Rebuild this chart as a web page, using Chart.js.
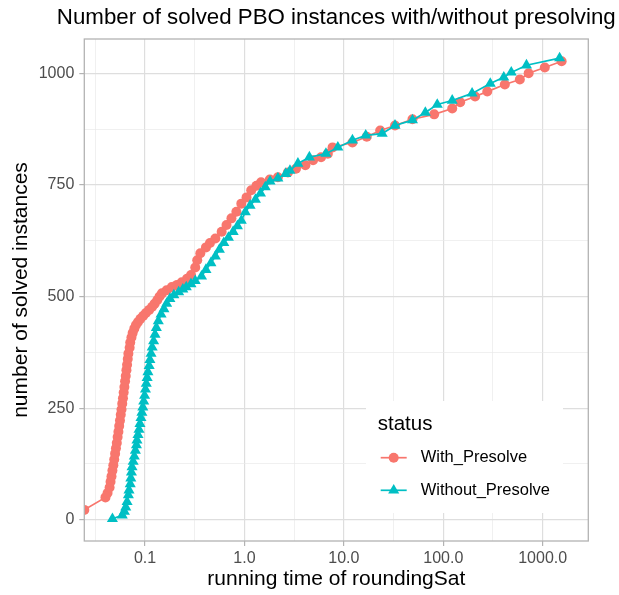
<!DOCTYPE html>
<html>
<head>
<meta charset="utf-8">
<title>Solved PBO instances</title>
<script src="https://cdn.jsdelivr.net/npm/chart.js@4.4.1/dist/chart.umd.min.js"></script>
<style>
  html, body { margin: 0; padding: 0; background: #ffffff; }
  #wrap { width: 619px; height: 595px; }
</style>
</head>
<body>
<div id="wrap"><canvas id="chart" width="619" height="595"></canvas></div>
<script>
// series (time in s, solved instances)
const seriesNames = ["With_Presolve", "Without_Presolve"];

const withTime = [0.0245, 0.040, 0.042, 0.044, 0.045, 0.046, 0.047, 0.048, 0.049, 0.050,
    0.051, 0.052, 0.053, 0.054, 0.055, 0.056, 0.057, 0.058, 0.059, 0.060,
    0.061, 0.062, 0.063, 0.064, 0.065, 0.066, 0.067, 0.068, 0.070, 0.071,
    0.073, 0.075, 0.078, 0.081, 0.085, 0.090, 0.096, 0.102, 0.110, 0.118,
    0.125, 0.133, 0.140, 0.148, 0.165, 0.186, 0.210, 0.234, 0.265, 0.29,
    0.32, 0.335, 0.36, 0.41, 0.45, 0.51, 0.59, 0.66, 0.74, 0.83,
    0.93, 1.05, 1.17, 1.32, 1.47, 1.8, 2.17, 2.74, 3.3, 4.1,
    4.9, 5.9, 6.9, 7.7, 12.2, 17, 23.2, 32.7, 49, 81,
    123, 148, 209, 277, 416, 589, 722, 1050, 1550];
const withSolved = [22, 50, 60, 72, 85, 97, 110, 122, 135, 148,
    160, 172, 185, 197, 210, 222, 235, 247, 260, 272,
    285, 297, 310, 322, 335, 347, 360, 372, 385, 397,
    408, 418, 428, 436, 443, 450, 457, 463, 470, 477,
    484, 492, 500, 507, 514, 521, 526, 532, 540, 548,
    565, 581, 597, 610, 620, 630, 645, 660, 675, 690,
    708, 722, 738, 748, 756, 762, 767, 778, 786, 794,
    805, 812, 820, 834, 845, 858, 872, 883, 897, 908,
    921, 935, 948, 959, 975, 986, 1000, 1013, 1027];

const withoutTime = [0.047, 0.059, 0.062, 0.064, 0.066, 0.068, 0.069, 0.071, 0.072, 0.073,
    0.074, 0.076, 0.078, 0.080, 0.082, 0.083, 0.085, 0.087, 0.089, 0.091,
    0.093, 0.095, 0.097, 0.099, 0.101, 0.103, 0.105, 0.107, 0.110, 0.112,
    0.115, 0.118, 0.122, 0.126, 0.130, 0.136, 0.145, 0.155, 0.165, 0.178,
    0.195, 0.218, 0.24, 0.26, 0.29, 0.32, 0.37, 0.41, 0.46, 0.51,
    0.56, 0.62, 0.69, 0.77, 0.85, 0.93, 1.02, 1.14, 1.29, 1.45,
    1.62, 1.81, 2.17, 2.6, 2.87, 3.45, 4.5, 6.6, 8.7, 12.2,
    16.6, 24.3, 32.7, 49, 66, 87, 123, 195, 297, 406,
    483, 687, 1480];
const withoutSolved = [2, 10, 18, 28, 40, 55, 66, 80, 93, 106,
    118, 130, 142, 155, 167, 178, 190, 202, 215, 228,
    240, 252, 265, 278, 292, 305, 318, 331, 345, 358,
    372, 386, 400, 415, 430, 445, 460, 472, 484, 495,
    503, 510, 516, 521, 528, 535, 545, 560, 575, 590,
    605, 620, 632, 645, 658, 670, 689, 704, 717, 731,
    745, 758, 765, 775, 782, 798, 812, 820, 834, 850,
    861, 865, 883, 895, 912, 930, 939, 955, 977, 991,
    1002, 1018, 1034];

// axis breaks
const xMajor = [0.1, 1, 10, 100, 1000];
const xMajorLabels = ["0.1", "1.0", "10.0", "100.0", "1000.0"];
const xMinor = [0.0316, 0.316, 3.16, 31.6, 316];
const yMajor = [0, 250, 500, 750, 1000];
const yMinor = [125, 375, 625, 875];

const RED = "#F8766D";
const TEAL = "#00BFC4";
const FONT = "'Liberation Sans', Arial, sans-serif";

function toPoints(xs, ys) {
    return xs.map((x, i) => ({ x: x, y: ys[i] }));
}

function gridColor(majors) {
    return ctx => (ctx.tick && majors.includes(ctx.tick.value)) ? "#DEDEDE" : "#E9E9E9";
}
function gridWidth(majors) {
    return ctx => (ctx.tick && majors.includes(ctx.tick.value)) ? 1.2 : 0.7;
}
function tickColor(majors) {
    return ctx => (ctx.tick && majors.includes(ctx.tick.value)) ? "#B3B3B3" : "rgba(0,0,0,0)";
}

function drawTriangle(ctx, x, y, r) {
    ctx.beginPath();
    ctx.moveTo(x, y - r);
    ctx.lineTo(x + Math.sin(Math.PI * 2 / 3) * r, y + r / 2);
    ctx.lineTo(x - Math.sin(Math.PI * 2 / 3) * r, y + r / 2);
    ctx.closePath();
    ctx.fill();
}

// title, panel border and the ggplot style legend inside the panel
const decor = {
    id: "decor",
    afterDraw(chart) {
        const ctx = chart.ctx;
        const a = chart.chartArea;
        ctx.save();

        ctx.strokeStyle = "#B3B3B3";
        ctx.lineWidth = 1.3;
        ctx.strokeRect(a.left, a.top, a.right - a.left, a.bottom - a.top);

        ctx.fillStyle = "#000000";
        ctx.font = "22.3px " + FONT;
        ctx.textAlign = "center";
        ctx.textBaseline = "alphabetic";
        ctx.fillText("Number of solved PBO instances with/without presolving", (a.left + a.right) / 2, 24);

        // legend box
        ctx.fillStyle = "#ffffff";
        ctx.fillRect(366, 401, 197, 112);

        ctx.fillStyle = "#000000";
        ctx.textAlign = "left";
        ctx.font = "20.5px " + FONT;
        ctx.fillText("status", 377.7, 429.5);

        const keys = [
            { name: seriesNames[0], color: RED, y: 457.7, shape: "circle" },
            { name: seriesNames[1], color: TEAL, y: 490.3, shape: "triangle" }
        ];
        keys.forEach(k => {
            ctx.strokeStyle = k.color;
            ctx.lineWidth = 1.7;
            ctx.beginPath();
            ctx.moveTo(380.7, k.y);
            ctx.lineTo(406.7, k.y);
            ctx.stroke();
            ctx.fillStyle = k.color;
            if (k.shape === "circle") {
                ctx.beginPath();
                ctx.arc(393.7, k.y, 5, 0, Math.PI * 2);
                ctx.fill();
            } else {
                drawTriangle(ctx, 393.7, k.y, 6.4);
            }
            ctx.fillStyle = "#000000";
            ctx.font = "16.5px " + FONT;
            ctx.textBaseline = "middle";
            ctx.fillText(k.name, 420.7, k.y);
            ctx.textBaseline = "alphabetic";
        });

        ctx.restore();
    }
};

new Chart(document.getElementById("chart"), {
    type: "scatter",
    data: {
        datasets: [
            {
                label: seriesNames[0],
                data: toPoints(withTime, withSolved),
                showLine: true,
                borderColor: RED,
                backgroundColor: RED,
                borderWidth: 1.7,
                pointStyle: "circle",
                pointRadius: 5,
                pointBorderWidth: 0,
                pointHoverRadius: 5,
                clip: 0,
                order: 1
            },
            {
                label: seriesNames[1],
                data: toPoints(withoutTime, withoutSolved),
                showLine: true,
                borderColor: TEAL,
                backgroundColor: TEAL,
                borderWidth: 1.7,
                pointStyle: "triangle",
                pointRadius: 6.4,
                pointBorderWidth: 0,
                pointHoverRadius: 6.4,
                clip: 0,
                order: 0
            }
        ]
    },
    options: {
        responsive: false,
        animation: false,
        devicePixelRatio: 1,
        layout: { padding: { left: 0, top: 39, right: 30.7, bottom: 0 } },
        plugins: {
            legend: { display: false },
            title: { display: false },
            tooltip: { enabled: false }
        },
        scales: {
            x: {
                type: "logarithmic",
                min: 0.0245,
                max: 2876,
                afterBuildTicks: scale => {
                    scale.ticks = xMinor.concat(xMajor).sort((p, q) => p - q).map(v => ({ value: v }));
                },
                afterFit: scale => { scale.height = 54; },
                ticks: {
                    autoSkip: false,
                    maxRotation: 0,
                    padding: 3,
                    color: "#4D4D4D",
                    font: { family: FONT, size: 16 },
                    callback: value => {
                        const i = xMajor.indexOf(value);
                        return i >= 0 ? xMajorLabels[i] : "";
                    }
                },
                grid: {
                    color: gridColor(xMajor),
                    lineWidth: gridWidth(xMajor),
                    tickColor: tickColor(xMajor),
                    tickLength: 5,
                    tickWidth: 1.2
                },
                border: { display: false },
                title: {
                    display: true,
                    text: "running time of roundingSat",
                    color: "#000000",
                    font: { family: FONT, size: 21 },
                    padding: { top: 0, bottom: 3 }
                }
            },
            y: {
                type: "linear",
                min: -47.7,
                max: 1076.8,
                afterBuildTicks: scale => {
                    scale.ticks = yMinor.concat(yMajor).sort((p, q) => p - q).map(v => ({ value: v }));
                },
                afterFit: scale => { scale.width = 84.3; },
                ticks: {
                    autoSkip: false,
                    padding: 5,
                    color: "#4D4D4D",
                    font: { family: FONT, size: 16 },
                    callback: value => yMajor.includes(value) ? String(value) : ""
                },
                grid: {
                    color: gridColor(yMajor),
                    lineWidth: gridWidth(yMajor),
                    tickColor: tickColor(yMajor),
                    tickLength: 5,
                    tickWidth: 1.2
                },
                border: { display: false },
                title: {
                    display: true,
                    text: "number of solved instances",
                    color: "#000000",
                    font: { family: FONT, size: 21 },
                    padding: { top: 9, bottom: 0 }
                }
            }
        }
    },
    plugins: [decor]
});
</script>
</body>
</html>
